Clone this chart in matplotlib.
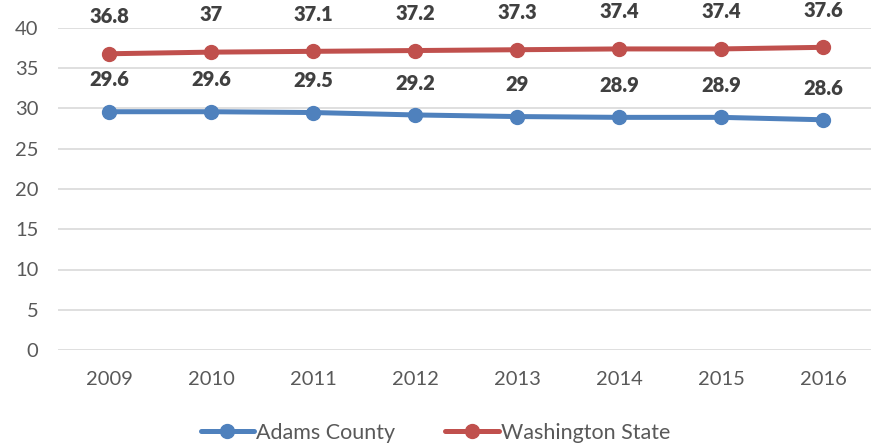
import matplotlib
matplotlib.use("Agg")
import matplotlib.pyplot as plt

years = ["2009", "2010", "2011", "2012", "2013", "2014", "2015", "2016"]
adams = [29.6, 29.6, 29.5, 29.2, 29.0, 28.9, 28.9, 28.6]
washington = [36.8, 37.0, 37.1, 37.2, 37.3, 37.4, 37.4, 37.6]
adams_labels = ["29.6", "29.6", "29.5", "29.2", "29", "28.9", "28.9", "28.6"]
wa_labels = ["36.8", "37", "37.1", "37.2", "37.3", "37.4", "37.4", "37.6"]
yticks = [0, 5, 10, 15, 20, 25, 30, 35, 40]

plt.rcParams['font.family'] = ['Lato', 'DejaVu Sans']

fig = plt.figure(figsize=(8.71, 4.48), dpi=100)
ax = fig.add_axes([58/871, 98/448, 816/871, 322/448])

x = list(range(len(years)))
blue = "#4F81BD"
red = "#C0504D"
ax.plot(x, adams, color=blue, lw=3.6, marker="o", ms=10, label="Adams County",
        solid_capstyle="round", zorder=3)
ax.plot(x, washington, color=red, lw=3.6, marker="o", ms=10, label="Washington State",
        solid_capstyle="round", zorder=3)

for xi, v, t in zip(x, adams, adams_labels):
    ax.annotate(t, (xi, v), xytext=(0, 16), textcoords="offset points",
                ha="center", va="bottom", fontsize=14.5, fontweight="heavy", color="#404040")
for xi, v, t in zip(x, washington, wa_labels):
    ax.annotate(t, (xi, v), xytext=(0, 20), textcoords="offset points",
                ha="center", va="bottom", fontsize=14.5, fontweight="heavy", color="#404040")

ax.set_xlim(-0.5, len(years) - 0.5)
ax.set_ylim(0, 40)
ax.set_yticks(yticks)
ax.set_xticks(x)
ax.set_xticklabels(years)
ax.grid(axis="y", color="#D9D9D9", lw=1.2)
ax.set_axisbelow(True)
for s in ax.spines.values():
    s.set_visible(False)
ax.tick_params(axis="both", length=0, labelsize=14.5, labelcolor="#595959")
ax.tick_params(axis="x", pad=15)
ax.tick_params(axis="y", pad=14)

leg = fig.legend(loc="lower center", bbox_to_anchor=(0.5, -0.032), ncol=2, frameon=False,
                 fontsize=15.5, labelcolor="#595959", handlelength=2.5, handletextpad=0.1,
                 columnspacing=2.3)

fig.savefig("out.png", dpi=100)
